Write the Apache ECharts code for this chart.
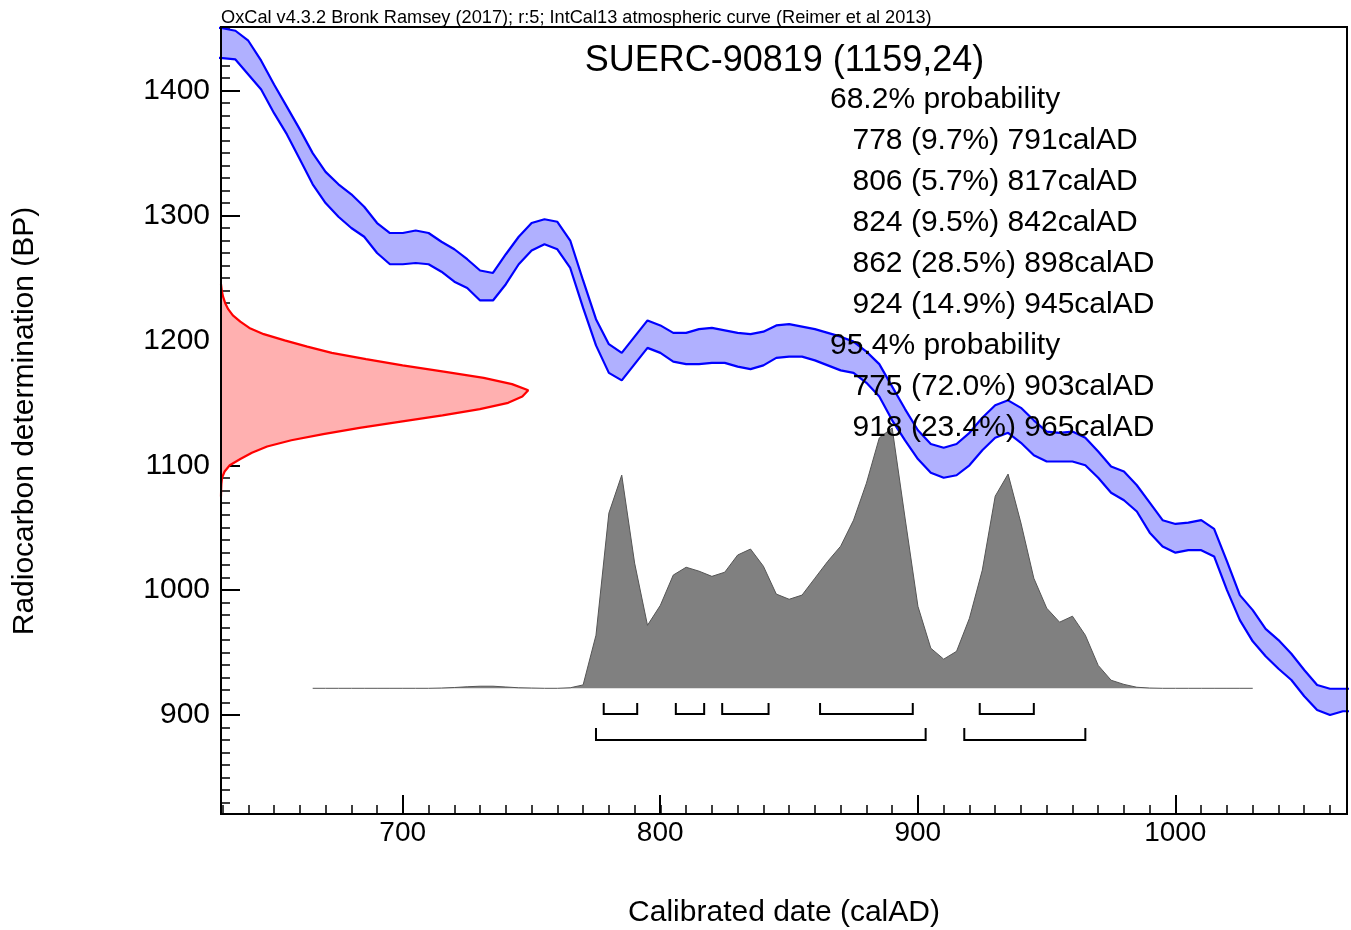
<!DOCTYPE html>
<html><head><meta charset="utf-8">
<script src="https://cdn.jsdelivr.net/npm/echarts@6/dist/echarts.min.js"></script>
<style>html,body{margin:0;padding:0;background:#fff}#c{width:1351px;height:930px}</style>
</head><body><div id="c"></div>
<script>
// ---------------- DATA ----------------
const calYears = [625,630,635,640,645,650,655,660,665,670,675,680,685,690,695,700,705,710,715,720,725,730,735,740,745,750,755,760,765,770,775,780,785,790,795,800,805,810,815,820,825,830,835,840,845,850,855,860,865,870,875,880,885,890,895,900,905,910,915,920,925,930,935,940,945,950,955,960,965,970,975,980,985,990,995,1000,1005,1010,1015,1020,1025,1030,1035,1040,1045,1050,1055,1060,1065,1070];
const curveUpper = [1451,1450,1448,1440,1424,1405,1387,1369,1350,1335,1325,1317,1307,1294,1286,1286,1288,1286,1279,1273,1265,1256,1254,1269,1283,1294,1297,1295,1280,1248,1217,1197,1190,1203,1216,1212,1206,1206,1209,1210,1208,1206,1205,1207,1212,1213,1211,1209,1206,1203,1199,1191,1181,1163,1145,1128,1117,1114,1117,1126,1138,1148,1152,1146,1136,1127,1126,1127,1122,1111,1099,1095,1084,1070,1056,1053,1054,1056,1049,1023,996,984,969,960,949,936,924,921,921,921];
const curveLower = [1427,1426,1425,1413,1401,1382,1365,1345,1325,1310,1299,1290,1283,1270,1261,1261,1262,1261,1255,1247,1242,1232,1232,1245,1261,1272,1277,1273,1258,1226,1196,1174,1168,1181,1194,1190,1183,1181,1181,1182,1182,1179,1177,1180,1186,1187,1187,1184,1180,1176,1174,1166,1155,1136,1120,1105,1094,1090,1092,1100,1112,1122,1126,1118,1108,1103,1103,1103,1100,1090,1078,1072,1063,1046,1035,1030,1032,1032,1027,1000,976,959,947,937,928,915,904,900,903,903];

const histYears = [665,670,675,680,685,690,695,700,705,710,715,720,725,730,735,740,745,750,755,760,765,770,775,780,785,790,795,800,805,810,815,820,825,830,835,840,845,850,855,860,865,870,875,880,885,890,895,900,905,910,915,920,925,930,935,940,945,950,955,960,965,970,975,980,985,990,995,1000,1005,1010,1015,1020,1025,1030];
const histProb = [0,0,0,0,0,0,0,0,0,0,0.1,0.3,0.6,0.8,0.8,0.5,0.2,0.1,0,0,0.2,1.3,20.4,67.3,81.9,48.1,24.2,31.9,43.5,46.5,45,43,44.6,51.2,53.5,46.9,36.2,34.2,35.8,42.3,48.8,54.6,64.6,78.8,96.2,100,65.4,31.5,15.4,11.2,14.2,26.9,45.4,73.8,82.3,63.5,42.3,30.8,25.4,27.7,20.4,8.8,3.1,1.5,0.4,0.1,0,0,0,0,0,0,0,0];

const measBP = [1075,1080,1085,1090,1095,1100,1105,1110,1115,1120,1125,1130,1135,1140,1145,1150,1155,1160,1165,1170,1175,1180,1185,1190,1195,1200,1205,1210,1215,1220,1225,1230,1235,1240,1245];
const measDensity = [0,0.05,0.15,0.4,1.4,3.4,7.5,12,17.9,27.3,39.7,53.8,69.8,86,100.5,111.5,117,119.3,113,102,86.5,70.5,56.3,43,33.5,24.7,16.6,11,7.5,4.6,2.8,1.6,0.8,0.3,0];

const ranges68 = [[778,791],[806,817],[824,842],[862,898],[924,945]];
const ranges95 = [[775,903],[918,965]];

const headerText = 'OxCal v4.3.2 Bronk Ramsey (2017); r:5; IntCal13 atmospheric curve (Reimer et al 2013)';
const titleText = 'SUERC-90819 (1159,24)';
const probHeadings = ['68.2% probability', '95.4% probability'];
const probLines68 = ['778 (9.7%) 791calAD','806 (5.7%) 817calAD','824 (9.5%) 842calAD','862 (28.5%) 898calAD','924 (14.9%) 945calAD'];
const probLines95 = ['775 (72.0%) 903calAD','918 (23.4%) 965calAD'];
const xAxisTitle = 'Calibrated date (calAD)';
const yAxisTitle = 'Radiocarbon determination (BP)';

// ---------------- LAYOUT ----------------
const FONT = "'Liberation Sans', Arial, Helvetica, sans-serif";
const X_MIN = 629.4, X_MAX = 1066.6;
const Y_MIN = 820.7, Y_MAX = 1451.0;
const H_MIN = -48.29, H_MAX = 254.05;   // hidden axis for the calibrated distribution
const BRACKET_ROWS = [[-5.65, -9.87], [-15.25, -19.86]];

const chart = echarts.init(document.getElementById('c'), null, {renderer: 'canvas'});

const brackets = ranges68.map(r => [r[0], r[1], 0]).concat(ranges95.map(r => [r[0], r[1], 1]));

const textEls = [];
textEls.push({type:'text', z:100, style:{x:221, y:18, text:headerText, fill:'#000', font:'18.2px ' + FONT, textAlign:'left', textVerticalAlign:'middle'}});
textEls.push({type:'text', z:100, style:{x:784.5, y:61, text:titleText, fill:'#000', font:'36px ' + FONT, textAlign:'center', textVerticalAlign:'middle'}});
const lineList = [[probHeadings[0], 830]].concat(probLines68.map(t => [t, 852.5]))
  .concat([[probHeadings[1], 830]]).concat(probLines95.map(t => [t, 852.5]));
lineList.forEach((l, i) => {
  textEls.push({type:'text', z:100, style:{x:l[1], y:99.8 + i * 41.0, text:l[0], fill:'#000', font:'30px ' + FONT, textAlign:'left', textVerticalAlign:'middle'}});
});
textEls.push({type:'text', z:100, style:{x:784, y:913, text:xAxisTitle, fill:'#000', font:'30px ' + FONT, textAlign:'center', textVerticalAlign:'middle'}});
textEls.push({type:'text', z:100, x:25, y:421, rotation:Math.PI/2, style:{x:0, y:0, text:yAxisTitle, fill:'#000', font:'30px ' + FONT, textAlign:'center', textVerticalAlign:'middle'}});

const fmt = (v) => String(v);

const option = {
  animation: false,
  backgroundColor: '#fff',
  grid: [
    {left:221, right:4, top:27, bottom:116, show:true, borderColor:'#000', borderWidth:2, backgroundColor:'transparent', z:20},
    {left:222.5, right:21.1, top:28.3, bottom:127.6},
    {left:402.7, right:175.7, top:90.7, bottom:215}
  ],
  xAxis: [
    {gridIndex:0, type:'value', min:X_MIN, max:X_MAX, show:false},
    {gridIndex:1, type:'value', min:630, max:1060, interval:10, offset:11.6,
     axisLine:{show:false}, axisTick:{show:true, inside:true, length:9, lineStyle:{color:'#000', width:1.5}},
     axisLabel:{show:false}, splitLine:{show:false}},
    {gridIndex:2, type:'value', min:700, max:1000, interval:100, offset:99,
     axisLine:{show:false}, axisTick:{show:true, inside:true, length:19, lineStyle:{color:'#000', width:2}},
     axisLabel:{show:true, margin:5, color:'#000', fontFamily:FONT, fontSize:28, formatter:fmt}, splitLine:{show:false}}
  ],
  yAxis: [
    {gridIndex:0, type:'value', min:Y_MIN, max:Y_MAX, show:false},
    {gridIndex:0, type:'value', min:H_MIN, max:H_MAX, show:false},
    {gridIndex:1, type:'value', min:830, max:1450, interval:10, offset:1.5,
     axisLine:{show:false}, axisTick:{show:true, inside:true, length:9, lineStyle:{color:'#000', width:1.5}},
     axisLabel:{show:false}, splitLine:{show:false}},
    {gridIndex:2, type:'value', min:900, max:1400, interval:100, offset:181.7,
     axisLine:{show:false}, axisTick:{show:true, inside:true, length:19, lineStyle:{color:'#000', width:2}},
     axisLabel:{show:true, margin:11, color:'#000', fontFamily:FONT, fontSize:30, formatter:fmt}, splitLine:{show:false}}
  ],
  series: [
    { // calibration curve band fill
      type:'custom', xAxisIndex:0, yAxisIndex:0, clip:true, z:1, silent:true,
      data:[[calYears[0], curveUpper[0]]],
      renderItem:(params, api) => {
        const pts = [];
        for (let i = 0; i < calYears.length; i++) pts.push(api.coord([calYears[i], curveUpper[i]]));
        for (let i = calYears.length - 1; i >= 0; i--) pts.push(api.coord([calYears[i], curveLower[i]]));
        return {type:'polygon', shape:{points:pts}, style:{fill:'#b0b0ff', stroke:null}};
      }
    },
    {type:'line', xAxisIndex:0, yAxisIndex:0, z:2, symbol:'none', silent:true,
     data:calYears.map((y, i) => [y, curveUpper[i]]), lineStyle:{color:'#0000ff', width:2.2}},
    {type:'line', xAxisIndex:0, yAxisIndex:0, z:2, symbol:'none', silent:true,
     data:calYears.map((y, i) => [y, curveLower[i]]), lineStyle:{color:'#0000ff', width:2.2}},
    { // measurement distribution fill
      type:'custom', xAxisIndex:0, yAxisIndex:0, clip:true, z:1, silent:true,
      data:[[X_MIN, measBP[0]]],
      renderItem:(params, api) => {
        const pts = [api.coord([X_MIN, measBP[0]])];
        for (let i = 0; i < measBP.length; i++) pts.push(api.coord([X_MIN + measDensity[i], measBP[i]]));
        pts.push(api.coord([X_MIN, measBP[measBP.length - 1]]));
        return {type:'polygon', shape:{points:pts}, style:{fill:'#ffb0b0', stroke:null}};
      }
    },
    {type:'line', xAxisIndex:0, yAxisIndex:0, z:2, symbol:'none', silent:true,
     data:measBP.map((b, i) => [X_MIN + measDensity[i], b]), lineStyle:{color:'#ff0000', width:2.2}},
    {type:'line', xAxisIndex:0, yAxisIndex:1, z:3, symbol:'none', silent:true,
     data:histYears.map((y, i) => [y, histProb[i]]),
     lineStyle:{color:'#555555', width:1}, areaStyle:{color:'#808080', opacity:1}},
    { // range brackets
      type:'custom', xAxisIndex:0, yAxisIndex:1, z:4, silent:true,
      data:brackets, encode:{x:[0,1], y:2},
      renderItem:(params, api) => {
        const row = BRACKET_ROWS[api.value(2)];
        const x1 = api.coord([api.value(0), 0])[0];
        const x2 = api.coord([api.value(1), 0])[0];
        const yT = api.coord([api.value(0), row[0]])[1];
        const yB = api.coord([api.value(0), row[1]])[1];
        return {type:'polyline', shape:{points:[[x1, yT], [x1, yB], [x2, yB], [x2, yT]]},
                style:{stroke:'#000', lineWidth:2, fill:null}};
      }
    }
  ],
  graphic: textEls
};
chart.setOption(option);
</script>
</body></html>
